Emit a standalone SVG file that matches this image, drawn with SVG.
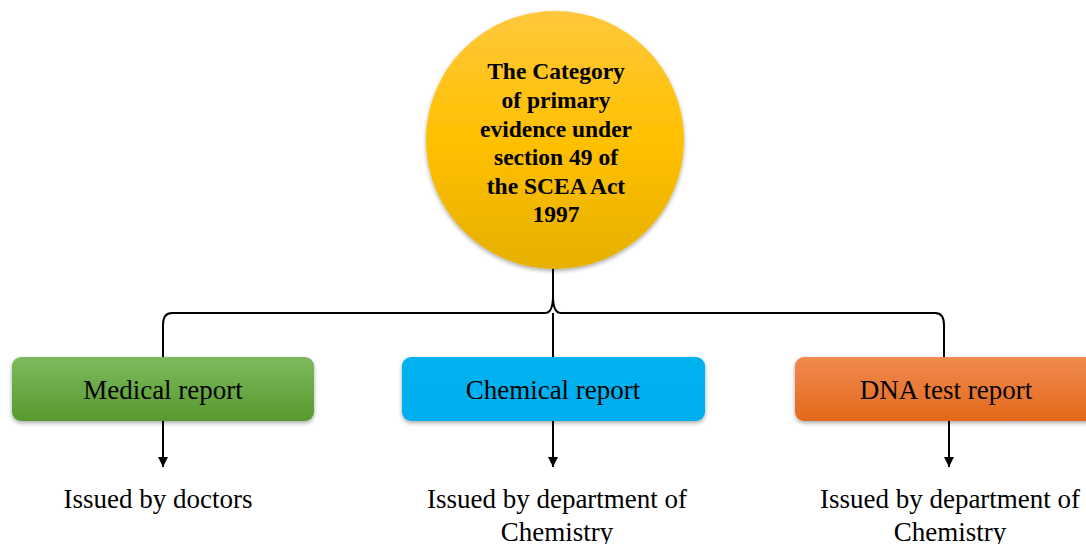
<svg xmlns="http://www.w3.org/2000/svg" width="1086" height="544" viewBox="0 0 1086 544">
<defs>
<linearGradient id="gCircL" x1="0" y1="0" x2="0" y2="1">
<stop offset="0" stop-color="#FFC83D"/>
<stop offset="0.5" stop-color="#FFC000"/>
<stop offset="1" stop-color="#E6B000"/>
</linearGradient>
<linearGradient id="gGreen" x1="0" y1="0" x2="0" y2="1">
<stop offset="0" stop-color="#7EBA5E"/>
<stop offset="1" stop-color="#58992E"/>
</linearGradient>
<linearGradient id="gBlue" x1="0" y1="0" x2="0" y2="1">
<stop offset="0" stop-color="#00B2F0"/>
<stop offset="1" stop-color="#00AEEF"/>
</linearGradient>
<linearGradient id="gOrange" x1="0" y1="0" x2="0" y2="1">
<stop offset="0" stop-color="#F08A50"/>
<stop offset="1" stop-color="#E3691A"/>
</linearGradient>
<filter id="sh" x="-10%" y="-10%" width="120%" height="130%">
<feGaussianBlur in="SourceAlpha" stdDeviation="2"/>
<feOffset dx="0" dy="2" result="b"/>
<feComponentTransfer><feFuncA type="linear" slope="0.35"/></feComponentTransfer>
<feMerge><feMergeNode/><feMergeNode in="SourceGraphic"/></feMerge>
</filter>
<marker id="arr" viewBox="0 0 10 10" refX="10" refY="5" markerWidth="5" markerHeight="5" orient="auto" markerUnits="strokeWidth">
<path d="M0,0 L10,5 L0,10 z" fill="#000"/>
</marker>
</defs>
<style>
.box{stroke:none;filter:url(#sh)}
.lbl{font-family:"Liberation Serif","Times New Roman",serif;font-size:27px;fill:#000;text-anchor:middle}
.ctr{font-family:"Liberation Serif","Times New Roman",serif;font-size:23.5px;font-weight:bold;fill:#000;text-anchor:middle}
.con{fill:none;stroke:#000;stroke-width:2}
</style>
<rect width="1086" height="544" fill="#fff"/>
<g id="connectors">
<path class="con" d="M553,260 L553,296 Q553,313 545,313 L172,313 Q163,313 163,325 L163,358"/>
<path class="con" d="M553,296 Q553,313 561,313 L935,313 Q944,313 944,325 L944,358"/>
<path class="con" d="M553,313 L553,358"/>
<path class="con" d="M163,421 L163,467" marker-end="url(#arr)"/>
<path class="con" d="M553,421 L553,467" marker-end="url(#arr)"/>
<path class="con" d="M949,421 L949,467" marker-end="url(#arr)"/>
</g>
<g id="center">
<circle cx="555" cy="140" r="129" fill="url(#gCircL)" filter="url(#sh)"/>
<text class="ctr" x="556" y="79">The Category</text>
<text class="ctr" x="556" y="108">of primary</text>
<text class="ctr" x="556" y="137">evidence under</text>
<text class="ctr" x="556" y="165">section 49 of</text>
<text class="ctr" x="556" y="194">the SCEA Act</text>
<text class="ctr" x="556" y="222">1997</text>
</g>
<g id="medical">
<rect class="box" x="12" y="357" width="302" height="64" rx="9" fill="url(#gGreen)"/>
<text class="lbl" x="163" y="399">Medical report</text>
</g>
<g id="chemical">
<rect class="box" x="402" y="357" width="303" height="64" rx="9" fill="url(#gBlue)"/>
<text class="lbl" x="553" y="399">Chemical report</text>
</g>
<g id="dna">
<rect class="box" x="795" y="357" width="303" height="64" rx="9" fill="url(#gOrange)"/>
<text class="lbl" x="946" y="399">DNA test report</text>
</g>
<g id="medical-note">
<text class="lbl" x="158" y="508">Issued by doctors</text>
</g>
<g id="chemical-note">
<text class="lbl" x="557" y="508">Issued by department of</text>
<text class="lbl" x="557" y="541">Chemistry</text>
</g>
<g id="dna-note">
<text class="lbl" x="950" y="508">Issued by department of</text>
<text class="lbl" x="950" y="541">Chemistry</text>
</g>
</svg>
